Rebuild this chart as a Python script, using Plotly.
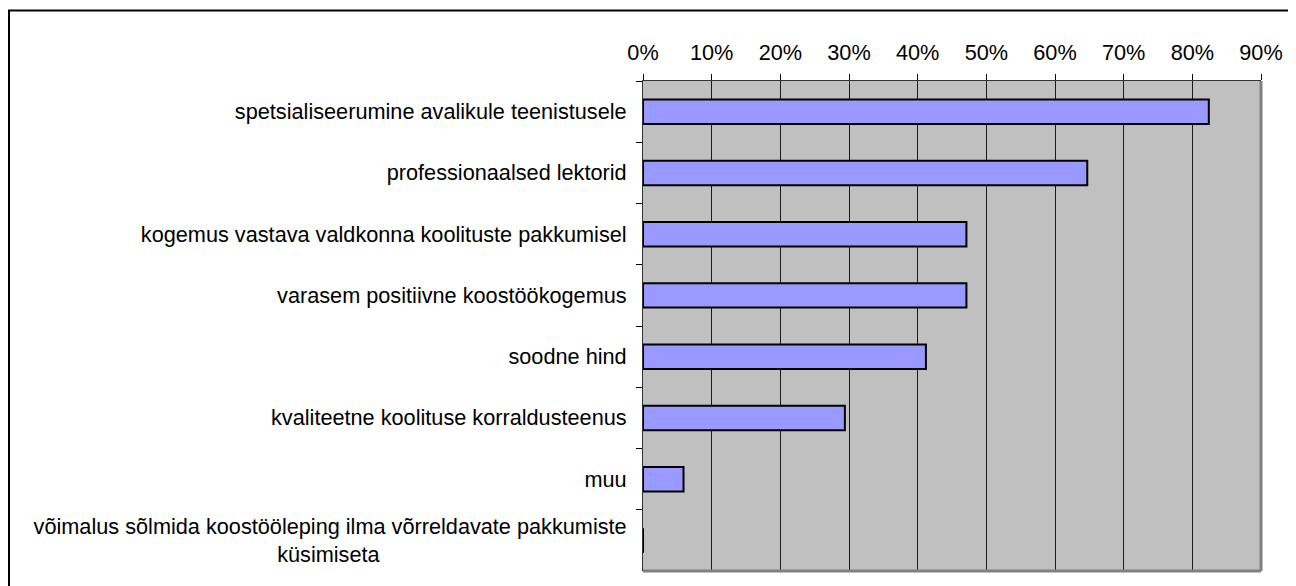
import plotly.graph_objects as go

categories = [
    "spetsialiseerumine avalikule teenistusele",
    "professionaalsed lektorid",
    "kogemus vastava valdkonna koolituste pakkumisel",
    "varasem positiivne koostöökogemus",
    "soodne hind",
    "kvaliteetne koolituse korraldusteenus",
    "muu",
    "võimalus sõlmida koostööleping ilma võrreldavate pakkumiste<br>küsimiseta" + "\u00a0" * 41,
]
values = [0.824, 0.647, 0.471, 0.471, 0.412, 0.294, 0.059, 0.0]
tick_vals = [0, 0.1, 0.2, 0.3, 0.4, 0.5, 0.6, 0.7, 0.8, 0.9]
tick_text = ["0%", "10%", "20%", "30%", "40%", "50%", "60%", "70%", "80%", "90%"]

FONT = "Liberation Sans, Arial, sans-serif"
FS = 21.7

fig = go.Figure()
fig.add_trace(go.Bar(
    x=values, y=categories, orientation="h",
    width=0.4,
    marker=dict(color="#9999FF", line=dict(color="black", width=2)),
    hoverinfo="x+y",
))

fig.update_layout(
    width=1288, height=578,
    margin=dict(l=635, r=35, t=73, b=15),
    paper_bgcolor="white",
    plot_bgcolor="#C0C0C0",
    showlegend=False,
    font=dict(family=FONT, size=FS, color="black"),
)
fig.update_xaxes(
    side="top", range=[0, 0.9],
    tickvals=tick_vals, ticktext=tick_text,
    showgrid=True, gridcolor="#1a1a1a", gridwidth=1,
    ticks="outside", ticklen=6, tickcolor="black", tickwidth=1,
    showline=True, linecolor="#333333", linewidth=1,
    zeroline=False, fixedrange=True,
    tickfont=dict(family=FONT, size=FS, color="black"),
    ticklabelstandoff=5,
)
fig.update_yaxes(
    autorange="reversed",
    tickson="boundaries",
    ticks="outside", ticklen=6, tickcolor="black", tickwidth=1,
    showline=True, linecolor="#333333", linewidth=1,
    showgrid=False, fixedrange=True,
    tickfont=dict(family=FONT, size=FS, color="black"),
    ticklabelstandoff=11,
)

# plot-area gray border on right and bottom
fig.add_shape(type="line", xref="paper", yref="paper", x0=1, x1=1, y0=0, y1=1,
              line=dict(color="#808080", width=3))
fig.add_shape(type="line", xref="paper", yref="paper", x0=0, x1=1, y0=0, y1=0,
              line=dict(color="#808080", width=3))
# outer chart border
fig.add_shape(type="rect", xref="paper", yref="paper",
              x0=-1.0259, x1=1.2, y0=-0.2, y1=1.1439,
              line=dict(color="black", width=2), fillcolor="rgba(0,0,0,0)")

fig.write_html("out.html")
